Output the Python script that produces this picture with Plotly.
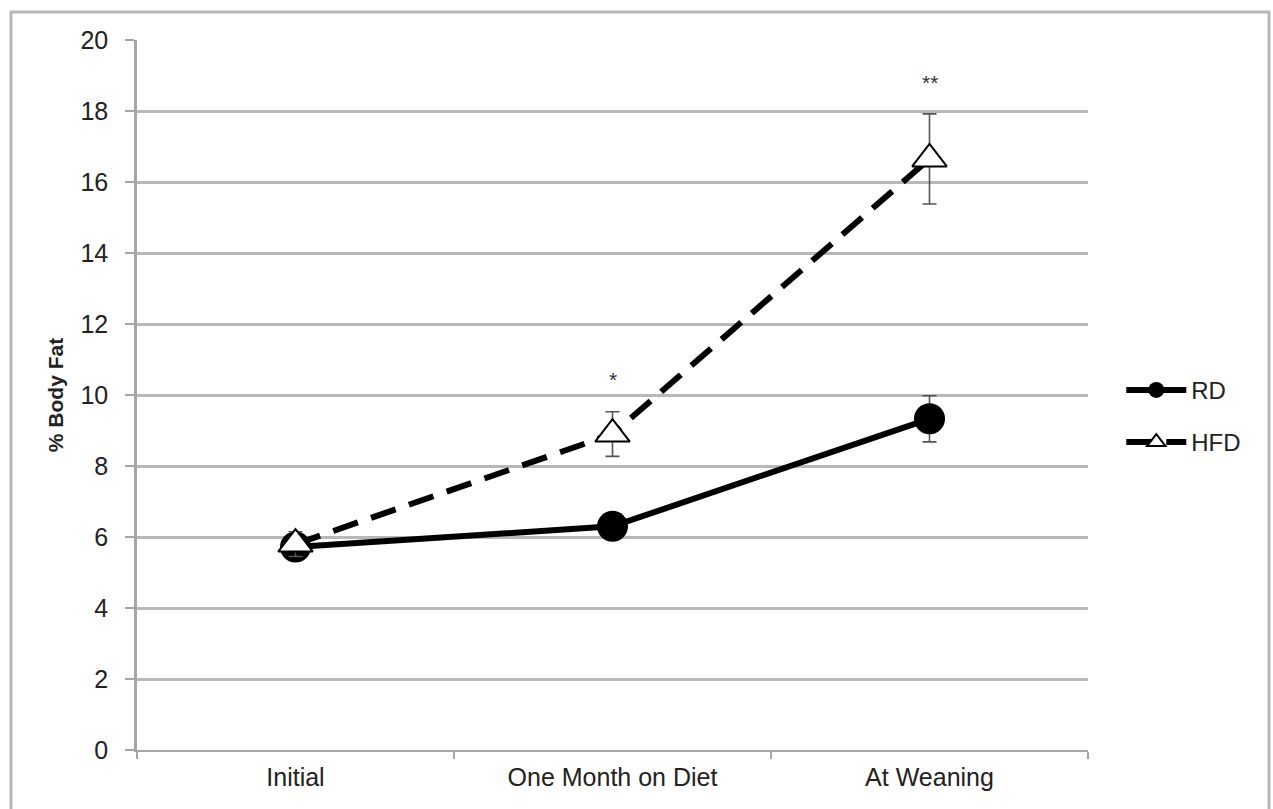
import plotly.graph_objects as go

# Time points and % body fat (mean ± error) for each diet group
timepoints = ["Initial", "One Month on Diet", "At Weaning"]
rd_mean = [5.72, 6.3, 9.33]
rd_err = [0.2, 0.15, 0.65]
hfd_mean = [5.8, 8.9, 16.65]
hfd_err = [0.35, 0.63, 1.27]
sig_labels = ["", "*", "**"]
sig_y = [None, 10.45, 18.8]

W, H = 1273, 809
ML, MR, MT, MB = 137, 185, 40, 59
plot_w = W - ML - MR
plot_h = H - MT - MB

FONT = "Arial, Liberation Sans, sans-serif"

fig = go.Figure()

fig.add_trace(go.Scatter(
    x=timepoints, y=rd_mean, name="RD", mode="lines+markers", legendgroup="rd",
    line=dict(color="black", width=6),
    marker=dict(symbol="circle", size=31, color="black"),
    error_y=dict(type="data", array=rd_err, visible=True,
                 color="#555555", thickness=1.6, width=7),
))
fig.add_trace(go.Scatter(
    x=timepoints, y=hfd_mean, name="HFD", mode="lines+markers", legendgroup="hfd",
    line=dict(color="black", width=6, dash="26px,14px"),
    marker=dict(symbol="triangle-up", size=30, color="white",
                line=dict(color="black", width=2)),
    error_y=dict(type="data", array=hfd_err, visible=True,
                 color="#555555", thickness=1.6, width=7),
))

# Significance markers above the HFD points
for t, lab, yy in zip(timepoints, sig_labels, sig_y):
    if lab:
        fig.add_annotation(x=t, y=yy, text=lab, showarrow=False,
                           font=dict(family=FONT, size=21, color="#333333"))

# Outer chart border
def px_to_paper_x(px):
    return (px - ML) / plot_w

def px_to_paper_y(py):
    return (H - MB - py) / plot_h

fig.add_shape(type="rect", xref="paper", yref="paper",
              x0=px_to_paper_x(11), x1=px_to_paper_x(1269),
              y0=px_to_paper_y(820), y1=px_to_paper_y(12),
              line=dict(color="#b8b8b8", width=3), fillcolor="rgba(0,0,0,0)",
              layer="below")

fig.update_layout(
    width=W, height=H,
    margin=dict(l=ML, r=MR, t=MT, b=MB),
    paper_bgcolor="white", plot_bgcolor="white",
    font=dict(family=FONT, size=24, color="#222222"),
    showlegend=True,
    legend=dict(x=1.035, y=0.47, xanchor="left", yanchor="middle",
                font=dict(family=FONT, size=24, color="#222222"),
                itemwidth=60, tracegroupgap=18, bgcolor="rgba(0,0,0,0)"),
    xaxis=dict(
        type="category", range=[-0.5, 2.5],
        showgrid=False, showline=True, linecolor="#a6a6a6", linewidth=2,
        ticks="outside", tickson="boundaries", ticklen=7, tickcolor="#a6a6a6",
        tickwidth=2, tickfont=dict(family=FONT, size=25), zeroline=False,
        ticklabelstandoff=4,
    ),
    yaxis=dict(
        range=[0, 20], dtick=2, showgrid=True, gridcolor="#b8b8b8", gridwidth=2.5,
        showline=True, linecolor="#a6a6a6", linewidth=2.5,
        ticks="outside", ticklen=9, tickcolor="#a6a6a6", tickwidth=2,
        tickfont=dict(family=FONT, size=25), zeroline=False,
        ticklabelstandoff=12,
        title=dict(text="<b>% Body Fat</b>", font=dict(family=FONT, size=21), standoff=12),
    ),
)

fig.write_html("out.html")
